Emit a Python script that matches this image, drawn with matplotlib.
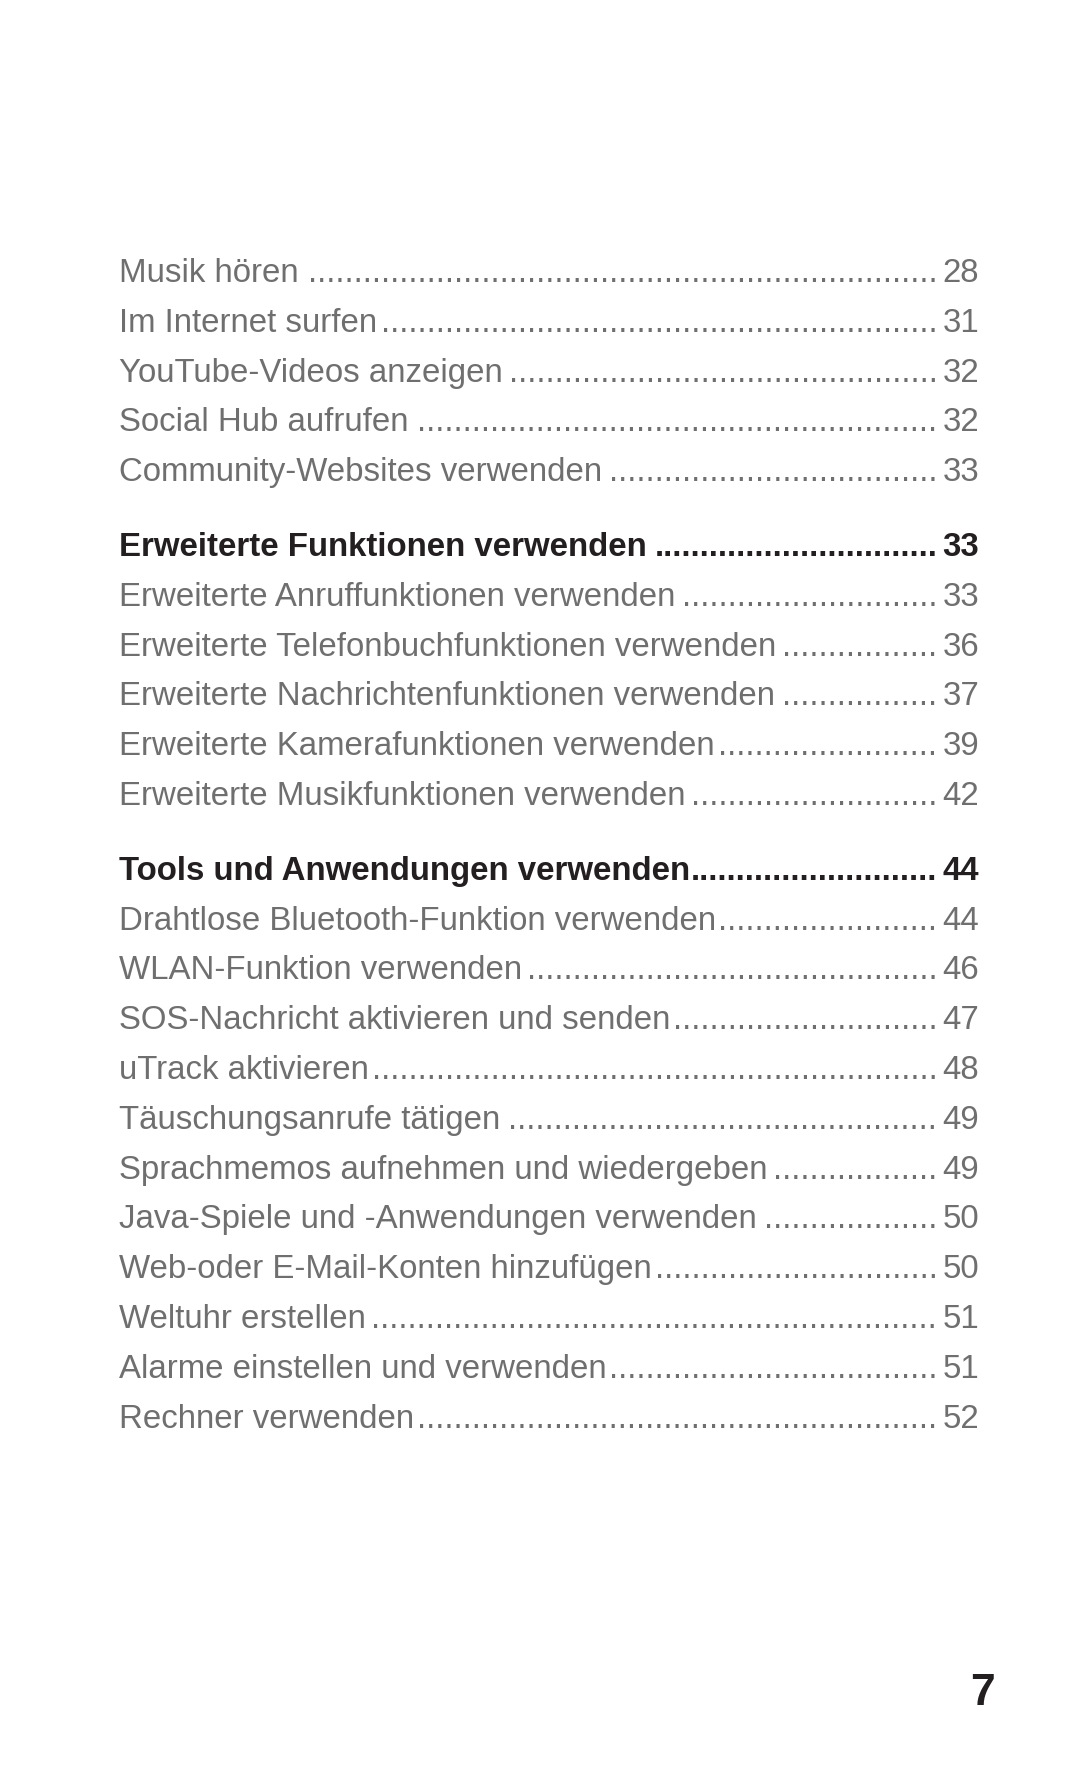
import matplotlib
matplotlib.use('Agg')
import matplotlib.pyplot as plt

######################### DATA ################################################

titles = ['Musik hören', 'Im Internet surfen', 'YouTube-Videos anzeigen',
          'Social Hub aufrufen', 'Community-Websites verwenden',
          'Erweiterte Funktionen verwenden',
          'Erweiterte Anruffunktionen verwenden',
          'Erweiterte Telefonbuchfunktionen verwenden',
          'Erweiterte Nachrichtenfunktionen verwenden',
          'Erweiterte Kamerafunktionen verwenden',
          'Erweiterte Musikfunktionen verwenden',
          'Tools und Anwendungen verwenden',
          'Drahtlose Bluetooth-Funktion verwenden',
          'WLAN-Funktion verwenden',
          'SOS-Nachricht aktivieren und senden',
          'uTrack aktivieren',
          'Täuschungsanrufe tätigen',
          'Sprachmemos aufnehmen und wiedergeben',
          'Java-Spiele und -Anwendungen verwenden',
          'Web-oder E-Mail-Konten hinzufügen',
          'Weltuhr erstellen',
          'Alarme einstellen und verwenden',
          'Rechner verwenden']
pages = [28, 31, 32, 32, 33,
         33, 33, 36, 37, 39, 42,
         44, 44, 46, 47, 48, 49, 49, 50, 50, 51, 51, 52]
is_header = [False] * 5 + [True] + [False] * 5 + [True] + [False] * 11
page_no = '7'

######################### FIG PARAMS ##########################################

W, H = 1080, 1771
x_left = 119
x_right = 979
y0 = 282          # baseline of first row
step = 49.8
sec_gap = 25
fs = 23.8
gray = '#6f6f6f'
dark = '#231f20'
fam = 'Liberation Sans'

######################### GENERATE FIG ########################################

fig = plt.figure(figsize=(W / 100, H / 100), dpi=100)
ax = fig.add_axes([0, 0, 1, 1])
ax.set_xlim(0, W)
ax.set_ylim(H, 0)
ax.axis('off')
fig.canvas.draw()
r = fig.canvas.get_renderer()
inv = ax.transData.inverted()

def width_px(t):
    bb = t.get_window_extent(renderer=r)
    (xa, _), (xb, _) = inv.transform([[bb.x0, bb.y0], [bb.x1, bb.y1]])
    return xb - xa

y = y0
for i, (title, pg, hd) in enumerate(zip(titles, pages, is_header)):
    if hd and i > 0:
        y += sec_gap
    clr = dark if hd else gray
    wt = 'bold' if hd else 'normal'
    t1 = ax.text(x_left, y, title, fontsize=fs, color=clr, fontweight=wt,
                 family=fam, va='baseline', ha='left')
    t2 = ax.text(x_right, y, str(pg), fontsize=fs, color=clr, fontweight=wt,
                 family=fam, va='baseline', ha='right')
    w1 = width_px(t1)
    w2 = width_px(t2)
    dot = ax.text(0, y, '.', fontsize=fs, family=fam, fontweight=wt)
    wd = width_px(dot)
    dot.remove()
    dot_end = x_right - w2 - 5
    n = int((dot_end - (x_left + w1 + 1)) / wd)
    ax.text(dot_end, y, '.' * n, fontsize=fs, color=clr, fontweight=wt,
            family=fam, va='baseline', ha='right')
    y += step

ax.text(995, 1705, page_no, fontsize=32, color=dark, fontweight='bold',
        family=fam, va='baseline', ha='right')

plt.savefig('out.png', dpi=100)
plt.close()
